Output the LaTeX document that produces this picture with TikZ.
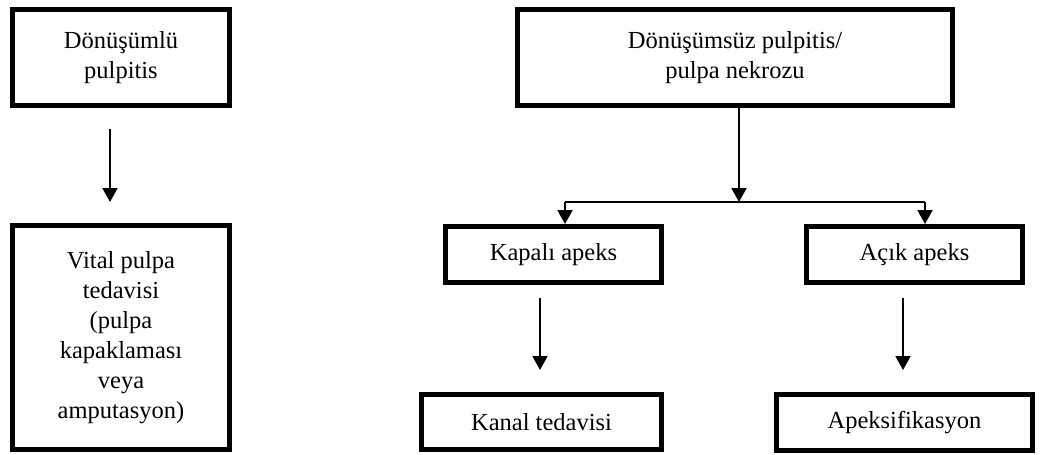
\documentclass[tikz,border=0pt]{standalone}
\usepackage{fontspec}
\setmainfont{Liberation Serif}
\usetikzlibrary{arrows.meta,calc}
\begin{document}
\begin{tikzpicture}[x=1pt,y=-1pt,
  box/.style={draw=black,line width=5pt,inner sep=0pt,align=center,
    font=\fontsize{24.5}{30}\selectfont},
  arr/.style={line width=2pt,-{Triangle[width=15pt,length=14pt]}},
  ln/.style={line width=2pt}]
\useasboundingbox (0,0) rectangle (1045,455);
% boxes
\node[box,minimum width=217pt,minimum height=96pt] (b1) at (121,57.5) {Dönüşümlü\\pulpitis};
\node[box,minimum width=217pt,minimum height=224pt] (b2) at (121,337.5)
  {Vital pulpa\\tedavisi\\(pulpa\\kapaklaması\\veya\\amputasyon)};
\node[box,minimum width=435pt,minimum height=96pt] (b3) at (735,57.5) {Dönüşümsüz pulpitis/\\pulpa nekrozu};
\node[box,minimum width=216pt,minimum height=56pt] (k1) at (553.5,254.5) {Kapalı apeks};
\node[box,minimum width=216pt,minimum height=56pt] (a1) at (914.5,254.5) {Açık apeks};
\node[box,minimum width=240pt,minimum height=55pt] (k2) at (541.5,422) {Kanal tedavisi};
\node[box,minimum width=256pt,minimum height=56pt] (a2) at (904.5,422.5) {Apeksifikasyon};
% helper coordinates
\coordinate (c1) at (110,0);
\coordinate (j) at (739,202);
\coordinate (jl) at (565,202);
\coordinate (jr) at (925,202);
\coordinate (cl) at (540,0);
\coordinate (cr) at (903,0);
% connectors
\draw[arr,shorten <=21pt,shorten >=21pt] (b1.south -| c1) -- (b2.north -| c1);
\draw[arr] (b3.south -| j) -- (j);
\draw[ln] (jl) -- (jr);
\draw[arr] (jl) -- (jl |- k1.north);
\draw[arr] (jr) -- (jr |- a1.north);
\draw[arr,shorten <=13pt,shorten >=22pt] (k1.south -| cl) -- (k2.north -| cl);
\draw[arr,shorten <=13pt,shorten >=22pt] (a1.south -| cr) -- (a2.north -| cr);
\end{tikzpicture}
\end{document}
